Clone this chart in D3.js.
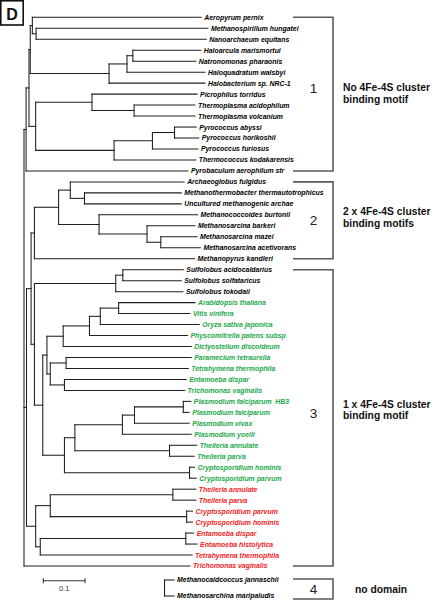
<!DOCTYPE html>
<html><head><meta charset="utf-8">
<script src="https://cdn.jsdelivr.net/npm/d3@7"></script>
<style>body{margin:0;background:#fff}svg{display:block}</style>
</head><body><svg id="c" width="432" height="600"></svg>
<script>
// ---------------- DATA ----------------
const panelLetter = "D";
const cladeGroup1 = "((((Aeropyrum pernix:0.405,(Methanospirillum hungatei:0.412,Nanoarchaeum equitans:0.408):0.009):0.005,(((Haloarcula marismortui:0.163,Natronomonas pharaonis:0.151):0.014,Haloquadratum walsbyi:0.187):0.043,Halobacterium sp. NRC-1:0.230):0.189):0.003,((Picrophilus torridus:0.252,(Thermoplasma acidophilum:0.146,Thermoplasma volcanium:0.146):0.101):0.135,(((Pyrococcus abyssi:0.052,Pyrococcus horikoshii:0.058):0.053,Pyrococcus furiosus:0.109):0.092,Thermococcus kodakarensis:0.196):0.188):0.016):0.007,Pyrobaculum aerophilum str:0.388)";
const cladeGroup2 = "(((Archaeoglobus fulgidus:0.273,(Methanothermobacter thermautotrophicus:0.232,Uncultured methanogenic archae:0.232):0.034):0.028,(Methanococcoides burtonii:0.236,(Methanosarcina barkeri:0.115,(Methanosarcina mazei:0.087,Methanosarcina acetivorans:0.095):0.033):0.115):0.097):0.058,Methanopyrus kandleri:0.384)";
const cladeSulfolobus = "((Sulfolobus acidocaldarius:0.145,Sulfolobus solfataricus:0.140):0.017,Sulfolobus tokodaii:0.161)";
const cladeEukA1 = "(((((Arabidopsis thaliana:0.183,Vitis vinifera:0.171):0.044,Oryza sativa japonica:0.237):0.026,Physcomitrella patens subsp:0.235):0.063,Dictyostelium discoideum:0.307):0.039,((Paramecium tetraurelia:0.300,Tetrahymena thermophila:0.293):0.038,(Entamoeba dispar:0.292,Trichomonas vaginalis:0.288):0.034):0.008)";
const cladeEukA2 = "(((((Plasmodium falciparum  HB3:0.018,Plasmodium falciparum:0.014):0.117,Plasmodium vivax:0.131):0.029,Plasmodium yoelii:0.165):0.114,(Theileria annulate:0.065,Theileria parva:0.059):0.227):0.025,(Cryptosporidium hominis:0.012,Cryptosporidium parvum:0.016):0.300)";
const cladeEukB = "(((Theileria annulate:0.055,Theileria parva:0.055):0.294,(Cryptosporidium parvum:0.014,Cryptosporidium hominis:0.014):0.327):0.035,((Entamoeba dispar:0.019,Entamoeba histolytica:0.027):0.349,Tetrahymena thermophila:0.364):0.011)";
const treeNewick = "(" + cladeGroup1 + ":0.005,((" + cladeGroup2 + ":0.008,(" + cladeSulfolobus + ":0.195,(" + cladeEukA1 + ":0.010," + cladeEukA2 + ":0.052):0.020):0.008):0.011," + cladeEukB + ":0.022):0.006,Trichomonas vaginalis:0.398);";
const outgroupNewick = "(Methanocaldcoccus jannaschii:0.023,Methanosarchina maripaludis:0.023):0.337;";

const leafClasses = ["archaea", "eukaryote set A", "eukaryote set B"];
const leafClassCounts = [26, 17, 8];

const cladeNumbers = ["1", "2", "3", "4"];
const cladeTexts = [["No 4Fe-4S cluster", "binding motif"], ["2 x 4Fe-4S cluster", "binding motifs"], ["1 x 4Fe-4S cluster", "binding motif"], ["no domain"]];
const cladeLeafRanges = [[0, 14], [15, 22], [23, 50]];

const scaleBarLength = 0.1;
const scaleBarLabel = "0.1";

// ---------------- PARSER ----------------
function parseNewick(s) {
  let i = 0;
  function node() {
    const n = { name: "", len: 0, children: [] };
    if (s[i] === "(") {
      i++;
      n.children.push(node());
      while (s[i] === ",") { i++; n.children.push(node()); }
      i++;
    }
    let name = "";
    while (i < s.length && !":,);".includes(s[i])) name += s[i++];
    n.name = name.replace(/^\s+|\s+$/g, "");
    if (s[i] === ":") {
      i++;
      let num = "";
      while (i < s.length && !",);".includes(s[i])) num += s[i++];
      n.len = +num;
    }
    if (!n.children.length) delete n.children;
    return n;
  }
  return node();
}

// ---------------- LAYOUT ----------------
const svg = d3.select("#c");
const FONT = "'Liberation Sans', Arial, sans-serif";

const x = d3.scaleLinear().domain([0, scaleBarLength]).range([24, 24 + 41.7]);

function layout(newick, yRange) {
  const root = d3.hierarchy(parseNewick(newick));
  root.eachBefore(d => { d.dist = d.parent ? d.parent.dist + d.data.len : d.data.len; d.px = x(d.dist); });
  const leaves = root.leaves();
  const y = d3.scalePoint().domain(d3.range(leaves.length)).range(yRange);
  leaves.forEach((l, k) => { l.py = y(k); l.idx = k; });
  root.eachAfter(d => { if (d.children) d.py = (d.children[0].py + d.children[d.children.length - 1].py) / 2; });
  return { root, leaves };
}

const main = layout(treeNewick, [17.3, 566]);
const out = layout(outgroupNewick, [580, 596]);

const leafClassOf = [];
leafClasses.forEach((c, k) => { for (let j = 0; j < leafClassCounts[k]; j++) leafClassOf.push(c); });
const colour = d3.scaleOrdinal().domain(leafClasses).range(["#000000", "#22a84a", "#f01c24"]);

function drawTree(t, g, classFn) {
  const segs = [];
  t.root.each(d => {
    if (d.children) segs.push([d.px, d.children[0].py, d.px, d.children[d.children.length - 1].py]);
    if (d.parent) segs.push([d.parent.px, d.py, d.px, d.py]);
  });
  g.selectAll("line.br").data(segs).join("line").attr("class", "br")
    .attr("x1", s => s[0]).attr("y1", s => s[1]).attr("x2", s => s[2]).attr("y2", s => s[3])
    .attr("stroke", "#1e1e1e").attr("stroke-width", 1.05).attr("stroke-linecap", "square");
  g.selectAll("text.lf").data(t.leaves).join("text").attr("class", "lf")
    .attr("x", d => d.px + 3).attr("y", d => d.py).attr("dy", "0.36em")
    .attr("font-family", FONT).attr("font-size", 6.9).attr("font-weight", "bold").attr("font-style", "italic")
    .style("white-space", "pre")
    .attr("fill", d => colour(classFn(d)))
    .text(d => d.data.name);
}

drawTree(main, svg.append("g"), d => leafClassOf[d.idx]);
drawTree(out, svg.append("g"), d => leafClasses[0]);

// ---------------- BRACKETS ----------------
const bx0 = 293, bx1 = 333;
const gB = svg.append("g").attr("stroke", "#5a5a5a").attr("stroke-width", 1.6).attr("fill", "none");
const bracketSpans = cladeLeafRanges.map(r => [main.leaves[r[0]].py, main.leaves[r[1]].py]);
bracketSpans.push([out.leaves[0].py - 1, 599]);
bracketSpans.forEach(([t, b]) => {
  gB.append("path").attr("d", `M${bx0},${t}H${bx1}V${b}H${bx0}`);
});

const numberNudge = [-6, 0, -5, 0];
const textCentre = [-1, -3, -8, 0];
cladeNumbers.forEach((n, k) => {
  const [t, b] = bracketSpans[k];
  const mid = (t + b) / 2;
  svg.append("text").attr("x", 313.5).attr("y", mid + numberNudge[k]).attr("dy", "0.36em")
    .attr("text-anchor", "middle").attr("font-family", FONT).attr("font-size", 13.5).attr("fill", "#222").text(n);
  const lines = cladeTexts[k];
  const lh = 11.8;
  const tx = k === 3 ? 355 : 343;
  lines.forEach((ln, j) => {
    svg.append("text").attr("x", tx).attr("y", mid + textCentre[k] + (j - (lines.length - 1) / 2) * lh).attr("dy", "0.36em")
      .attr("font-family", FONT).attr("font-size", 10.3).attr("font-weight", "bold").attr("fill", "#111").text(ln);
  });
});

// ---------------- SCALE BAR ----------------
const sbY = 580.7, sbX0 = 43.3;
const sbW = x(scaleBarLength) - x(0);
const gS = svg.append("g").attr("stroke", "#333").attr("stroke-width", 1.1);
gS.append("line").attr("x1", sbX0).attr("x2", sbX0 + sbW).attr("y1", sbY).attr("y2", sbY);
gS.append("line").attr("x1", sbX0).attr("x2", sbX0).attr("y1", sbY - 2.5).attr("y2", sbY + 2.5);
gS.append("line").attr("x1", sbX0 + sbW).attr("x2", sbX0 + sbW).attr("y1", sbY - 2.5).attr("y2", sbY + 2.5);
svg.append("text").attr("x", sbX0 + sbW / 2).attr("y", 591).attr("text-anchor", "middle")
  .attr("font-family", FONT).attr("font-size", 7.5).attr("fill", "#333").text(scaleBarLabel);

// ---------------- PANEL LETTER ----------------
svg.append("rect").attr("x", 0.8).attr("y", 0.8).attr("width", 22.4).attr("height", 24.2)
  .attr("fill", "none").attr("stroke", "#111").attr("stroke-width", 1.6);
svg.append("text").attr("x", 12).attr("y", 19.5).attr("text-anchor", "middle")
  .attr("font-family", FONT).attr("font-size", 16).attr("font-weight", "bold").attr("fill", "#111").text(panelLetter);
</script></body></html>
